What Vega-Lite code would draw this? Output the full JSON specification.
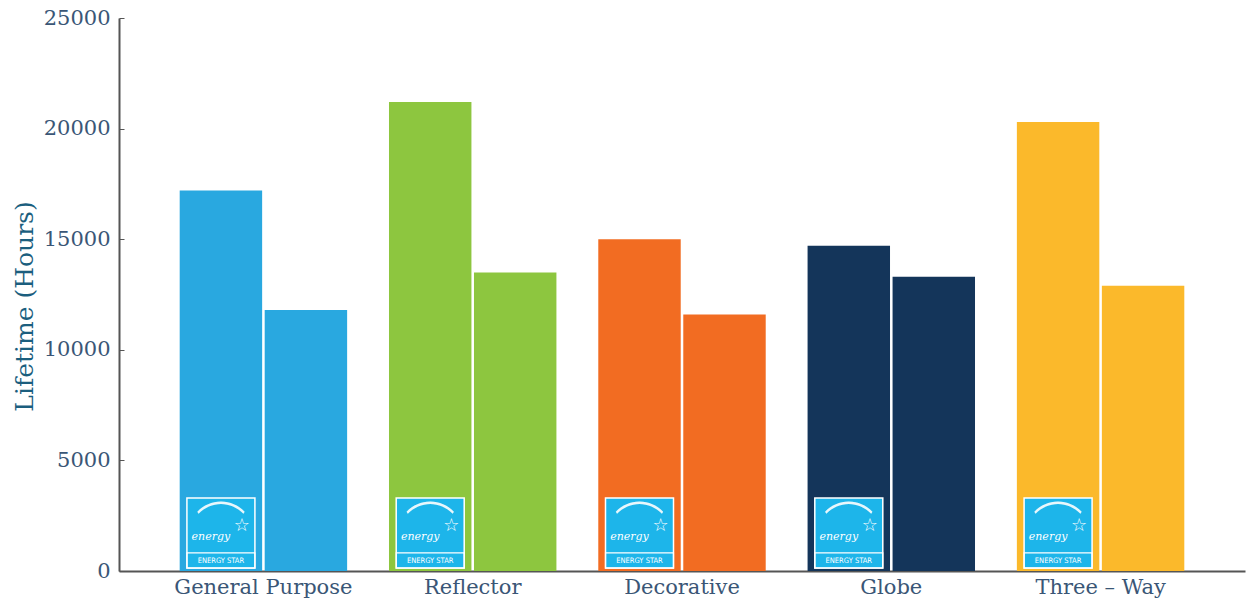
{
  "$schema": "https://vega.github.io/schema/vega-lite/v6.json",
  "width": 1126,
  "height": 553,
  "autosize": {"type": "none"},
  "padding": {"left": 119, "top": 18, "right": 4, "bottom": 34},
  "background": "white",
  "config": {
    "view": {"stroke": null},
    "font": "DejaVu Serif"
  },
  "data": {
    "values": [
      {"category": "General Purpose", "type": "ENERGY STAR", "hours": 17200},
      {"category": "General Purpose", "type": "Standard", "hours": 11800},
      {"category": "Reflector", "type": "ENERGY STAR", "hours": 21200},
      {"category": "Reflector", "type": "Standard", "hours": 13500},
      {"category": "Decorative", "type": "ENERGY STAR", "hours": 15000},
      {"category": "Decorative", "type": "Standard", "hours": 11600},
      {"category": "Globe", "type": "ENERGY STAR", "hours": 14700},
      {"category": "Globe", "type": "Standard", "hours": 13300},
      {"category": "Three – Way", "type": "ENERGY STAR", "hours": 20300},
      {"category": "Three – Way", "type": "Standard", "hours": 12900}
    ]
  },
  "encoding": {
    "x": {
      "field": "category",
      "type": "nominal",
      "sort": null,
      "scale": {"paddingInner": 0.2, "paddingOuter": 0.29},
      "axis": {
        "title": null,
        "labelAngle": 0,
        "labelFont": "DejaVu Serif",
        "labelFontSize": 21,
        "labelColor": "#3A5676",
        "labelPadding": 5,
        "ticks": false,
        "domainColor": "#555555",
        "domainWidth": 2,
        "grid": false
      }
    },
    "xOffset": {
      "field": "type",
      "type": "nominal",
      "sort": ["ENERGY STAR", "Standard"],
      "scale": {"paddingInner": 0.03}
    }
  },
  "layer": [
    {
      "mark": {"type": "bar"},
      "encoding": {
        "y": {
          "field": "hours",
          "type": "quantitative",
          "scale": {"domain": [0, 25000], "nice": false},
          "axis": {
            "values": [0, 5000, 10000, 15000, 20000, 25000],
            "format": "d",
            "title": "Lifetime (Hours)",
            "titleFont": "DejaVu Serif",
            "titleFontSize": 25,
            "titleFontWeight": "normal",
            "titleColor": "#1B5E7E",
            "titleX": -95,
            "titleY": 288,
            "titleAlign": "center",
            "titleBaseline": "middle",
            "labelFont": "DejaVu Serif",
            "labelFontSize": 21,
            "labelColor": "#3A5676",
            "labelPadding": 14,
            "tickSize": -5,
            "tickColor": "#555555",
            "domainColor": "#555555",
            "domainWidth": 2,
            "grid": false
          }
        },
        "color": {
          "field": "category",
          "type": "nominal",
          "sort": null,
          "scale": {
            "domain": ["General Purpose", "Reflector", "Decorative", "Globe", "Three – Way"],
            "range": ["#29A8E0", "#8DC63F", "#F26C22", "#14355A", "#FBB92B"]
          },
          "legend": null
        }
      }
    },
    {
      "transform": [{"filter": "datum.type === 'ENERGY STAR'"}],
      "mark": {"type": "bar", "width": 68, "color": "#1DB5EA", "stroke": "white", "strokeWidth": 1.5},
      "encoding": {
        "y": {"datum": 3300, "type": "quantitative"},
        "y2": {"datum": 130}
      }
    },
    {
      "transform": [{"filter": "datum.type === 'ENERGY STAR'"}],
      "mark": {"type": "bar", "width": 68, "fill": null, "fillOpacity": 0, "stroke": "white", "strokeWidth": 1.2},
      "encoding": {
        "y": {"datum": 820, "type": "quantitative"},
        "y2": {"datum": 130}
      }
    },
    {
      "transform": [{"filter": "datum.type === 'ENERGY STAR'"}],
      "mark": {"type": "text", "text": "ENERGY STAR", "font": "DejaVu Sans Condensed", "fontSize": 7.5, "color": "white", "baseline": "middle"},
      "encoding": {
        "y": {"datum": 470, "type": "quantitative"}
      }
    },
    {
      "transform": [{"filter": "datum.type === 'ENERGY STAR'"}],
      "mark": {"type": "text", "text": "⌒", "font": "Noto Sans CJK JP", "fontWeight": 300, "fontSize": 50, "color": "white", "baseline": "middle", "opacity": 0.9},
      "encoding": {
        "y": {"datum": 1900, "type": "quantitative"}
      }
    },
    {
      "transform": [{"filter": "datum.type === 'ENERGY STAR'"}],
      "mark": {"type": "text", "text": "energy", "font": "DejaVu Serif", "fontStyle": "italic", "fontSize": 11, "color": "white", "baseline": "middle", "dx": -10},
      "encoding": {
        "y": {"datum": 1550, "type": "quantitative"}
      }
    },
    {
      "transform": [{"filter": "datum.type === 'ENERGY STAR'"}],
      "mark": {"type": "text", "text": "☆", "font": "DejaVu Sans", "fontSize": 18, "color": "white", "baseline": "middle", "dx": 21},
      "encoding": {
        "y": {"datum": 2050, "type": "quantitative"}
      }
    }
  ]
}
